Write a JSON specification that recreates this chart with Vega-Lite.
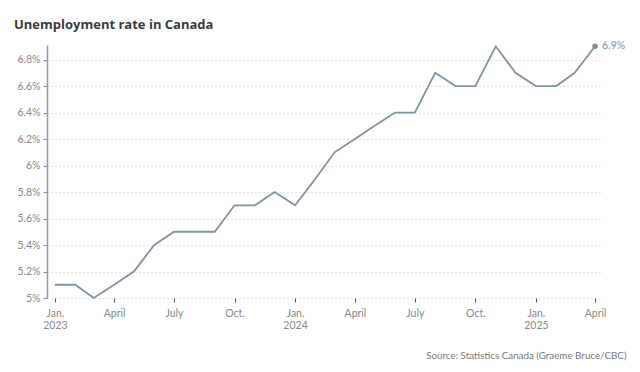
{
  "$schema": "https://vega.github.io/schema/vega-lite/v6.json",
  "autosize": "none",
  "width": 556,
  "height": 253,
  "padding": {"left": 47, "top": 45, "right": 37, "bottom": 74},
  "background": "white",
  "title": {
    "text": "Unemployment rate in Canada",
    "anchor": "start",
    "frame": "group",
    "dx": -33,
    "dy": 18,
    "offset": 17,
    "baseline": "alphabetic",
    "font": "Open Sans",
    "fontSize": 13,
    "fontWeight": "bold",
    "color": "#3a3a3a"
  },
  "datasets": {
    "rates": [
      {"date": "2023-01-01", "rate": 5.1},
      {"date": "2023-02-01", "rate": 5.1},
      {"date": "2023-03-01", "rate": 5.0},
      {"date": "2023-04-01", "rate": 5.1},
      {"date": "2023-05-01", "rate": 5.2},
      {"date": "2023-06-01", "rate": 5.4},
      {"date": "2023-07-01", "rate": 5.5},
      {"date": "2023-08-01", "rate": 5.5},
      {"date": "2023-09-01", "rate": 5.5},
      {"date": "2023-10-01", "rate": 5.7},
      {"date": "2023-11-01", "rate": 5.7},
      {"date": "2023-12-01", "rate": 5.8},
      {"date": "2024-01-01", "rate": 5.7},
      {"date": "2024-02-01", "rate": 5.9},
      {"date": "2024-03-01", "rate": 6.1},
      {"date": "2024-04-01", "rate": 6.2},
      {"date": "2024-05-01", "rate": 6.3},
      {"date": "2024-06-01", "rate": 6.4},
      {"date": "2024-07-01", "rate": 6.4},
      {"date": "2024-08-01", "rate": 6.7},
      {"date": "2024-09-01", "rate": 6.6},
      {"date": "2024-10-01", "rate": 6.6},
      {"date": "2024-11-01", "rate": 6.9},
      {"date": "2024-12-01", "rate": 6.7},
      {"date": "2025-01-01", "rate": 6.6},
      {"date": "2025-02-01", "rate": 6.6},
      {"date": "2025-03-01", "rate": 6.7},
      {"date": "2025-04-01", "rate": 6.9}
    ],
    "last": [
      {"date": "2025-04-01", "rate": 6.9, "label": "6.9%"}
    ]
  },
  "encoding": {
    "x": {
      "field": "date",
      "type": "temporal",
      "scale": {
        "type": "utc",
        "domain": [
          {"year": 2022, "month": 12, "date": 20, "utc": true},
          {"year": 2025, "month": 4, "date": 13, "utc": true}
        ]
      },
      "axis": {
        "values": [
          {"year": 2023, "month": 1, "date": 1, "utc": true},
          {"year": 2023, "month": 4, "date": 1, "utc": true},
          {"year": 2023, "month": 7, "date": 1, "utc": true},
          {"year": 2023, "month": 10, "date": 1, "utc": true},
          {"year": 2024, "month": 1, "date": 1, "utc": true},
          {"year": 2024, "month": 4, "date": 1, "utc": true},
          {"year": 2024, "month": 7, "date": 1, "utc": true},
          {"year": 2024, "month": 10, "date": 1, "utc": true},
          {"year": 2025, "month": 1, "date": 1, "utc": true},
          {"year": 2025, "month": 4, "date": 1, "utc": true}
        ],
        "labelExpr": "utcmonth(datum.value) == 0 ? ['Jan.', utcFormat(datum.value, '%Y')] : utcmonth(datum.value) == 3 ? 'April' : utcmonth(datum.value) == 6 ? 'July' : 'Oct.'",
        "domain": false,
        "grid": false,
        "ticks": true,
        "tickSize": 4,
        "tickColor": "#555555",
        "labelPadding": 6,
        "labelFont": "Lato",
        "labelFontSize": 10.5,
        "labelColor": "#888888",
        "labelLineHeight": 12.5,
        "labelFlush": false,
        "labelOverlap": false,
        "title": "Source: Statistics Canada (Graeme Bruce/CBC)",
        "titleAnchor": "end",
        "titleAlign": "right",
        "titleX": 579,
        "titleY": 57,
        "titleBaseline": "middle",
        "titleFont": "Lato",
        "titleFontSize": 9.8,
        "titleFontWeight": "normal",
        "titleColor": "#777777"
      }
    },
    "y": {
      "field": "rate",
      "type": "quantitative",
      "scale": {"domain": [5, 6.91], "zero": false, "nice": false},
      "axis": {
        "values": [5, 5.2, 5.4, 5.6, 5.8, 6, 6.2, 6.4, 6.6, 6.8],
        "labelExpr": "format(datum.value, '~g') + '%'",
        "domain": true,
        "domainColor": "#999999",
        "domainWidth": 1.5,
        "ticks": true,
        "tickSize": 4,
        "tickColor": "#888888",
        "labelPadding": 3,
        "labelFont": "Lato",
        "labelFontSize": 10.5,
        "labelColor": "#888888",
        "grid": true,
        "gridColor": "#c4c4c4",
        "gridDash": [1, 3],
        "gridWidth": 1,
        "title": null
      }
    }
  },
  "layer": [
    {
      "data": {"name": "rates", "format": {"parse": {"date": "date"}}},
      "mark": {"type": "line", "color": "#7f949e", "strokeWidth": 1.8}
    },
    {
      "data": {"name": "last", "format": {"parse": {"date": "date"}}},
      "mark": {"type": "point", "filled": true, "size": 30, "color": "#7b909b", "opacity": 1}
    },
    {
      "data": {"name": "last", "format": {"parse": {"date": "date"}}},
      "mark": {"type": "text", "align": "left", "dx": 7, "baseline": "middle", "font": "Lato", "fontSize": 10.5, "color": "#7b909b"},
      "encoding": {"text": {"field": "label"}}
    }
  ],
  "config": {
    "view": {"stroke": null}
  }
}
